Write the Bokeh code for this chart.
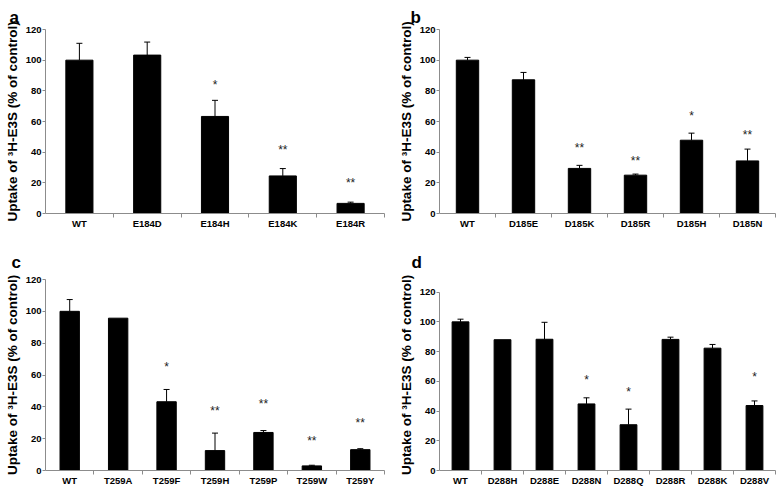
from bokeh.plotting import figure
from bokeh.models import ColumnDataSource, Range1d, FixedTicker, Whisker, TeeHead, Title
from bokeh.layouts import column, row
from bokeh.embed import file_html
from bokeh.resources import INLINE
from bokeh.core.properties import value

FONT = "Liberation Sans"
GRAY = "#8c8c8c"
Y_LABEL = "Uptake of ³H-E3S (% of control)"
y_ticks = [0, 20, 40, 60, 80, 100, 120]

# Panel a
a_cats = ["WT", "E184D", "E184H", "E184K", "E184R"]
a_vals = [100, 103.3, 63.3, 24.5, 6.6]
a_sd = [11, 8.5, 10.5, 4.8, 0.8]
a_stars = ["", "", "*", "**", "**"]
a_star_y = [0, 0, 83.5, 41.3, 20.1]

# Panel b
b_cats = ["WT", "D185E", "D185K", "D185R", "D185H", "D185N"]
b_vals = [100, 87.2, 29.4, 25.0, 47.8, 34.3]
b_sd = [1.8, 4.8, 2.0, 0.7, 4.6, 7.7]
b_stars = ["", "", "**", "**", "*", "**"]
b_star_y = [0, 0, 42.8, 34.0, 63.7, 51.0]

# Panel c
c_cats = ["WT", "T259A", "T259F", "T259H", "T259P", "T259W", "T259Y"]
c_vals = [100, 95.7, 43.2, 12.5, 23.9, 2.9, 13.1]
c_sd = [7.4, 0, 7.7, 11.0, 1.2, 0.4, 0.6]
c_stars = ["", "", "*", "**", "**", "**", "**"]
c_star_y = [0, 0, 65.0, 37.6, 41.7, 18.3, 30.1]

# Panel d
d_cats = ["WT", "D288H", "D288E", "D288N", "D288Q", "D288R", "D288K", "D288V"]
d_vals = [100, 88.0, 88.3, 44.8, 30.8, 88.2, 82.3, 43.7]
d_sd = [1.8, 0, 11.4, 4.1, 10.5, 1.5, 2.5, 3.1]
d_stars = ["", "", "", "*", "*", "", "", "*"]
d_star_y = [0, 0, 0, 60.9, 53.0, 0, 0, 63.1]


def panel(letter, cats, vals, sd, stars, star_y, width, height,
          left, right, top, bottom, lx, standoff, y_end):
    n = len(cats)
    xs = list(range(1, n + 1))
    p = figure(width=width, height=height,
               x_range=Range1d(0.5, n + 0.5), y_range=Range1d(0, y_end),
               output_backend="svg", toolbar_location=None, tools="",
               min_border_left=left, min_border_right=right,
               min_border_top=top, min_border_bottom=bottom)
    p.title = Title(text=letter, align="left", offset=lx - left,
                    standoff=standoff, text_font=FONT,
                    text_font_size="17px", text_font_style="bold",
                    text_color="black")
    p.vbar(x=xs, top=vals, width=0.4, fill_color="black", line_color="black")

    ex = [x for x, s in zip(xs, sd) if s > 0]
    elo = [v for v, s in zip(vals, sd) if s > 0]
    ehi = [v + s for v, s in zip(vals, sd) if s > 0]
    src = ColumnDataSource(dict(x=ex, lower=elo, upper=ehi))
    w = Whisker(base="x", lower="lower", upper="upper", source=src,
                line_color="black", line_width=1, lower_head=None,
                upper_head=TeeHead(size=6, line_color="black", line_width=1))
    p.add_layout(w)

    sx = [x for x, t in zip(xs, stars) if t]
    sy = [y for y, t in zip(star_y, stars) if t]
    st = [t for t in stars if t]
    p.text(x=sx, y=sy, text=st, text_font=value(FONT), text_font_size="12px",
           text_align="center", text_baseline="middle", text_color="#222222")

    xa = p.xaxis[0]
    xa.ticker = FixedTicker(ticks=xs, minor_ticks=[x + 0.5 for x in xs])
    xa.major_label_overrides = {x: c for x, c in zip(xs, cats)}
    xa.axis_line_color = GRAY
    xa.major_tick_line_color = None
    xa.major_tick_out = 0
    xa.major_tick_in = 0
    xa.minor_tick_line_color = GRAY
    xa.minor_tick_out = 4
    xa.minor_tick_in = 0
    xa.major_label_standoff = 0
    xa.major_label_text_font = FONT
    xa.major_label_text_font_size = "9.5px"
    xa.major_label_text_font_style = "bold"
    xa.major_label_text_color = "black"

    ya = p.yaxis[0]
    ya.ticker = FixedTicker(ticks=y_ticks)
    ya.bounds = (y_ticks[0], y_ticks[-1])
    ya.axis_line_color = GRAY
    ya.major_tick_line_color = GRAY
    ya.major_tick_out = 3
    ya.major_tick_in = 0
    ya.minor_tick_line_color = None
    ya.major_label_standoff = 1
    ya.major_label_text_font = FONT
    ya.major_label_text_font_size = "9.5px"
    ya.major_label_text_font_style = "bold"
    ya.major_label_text_color = "black"
    ya.axis_label = Y_LABEL
    ya.axis_label_text_font = FONT
    ya.axis_label_text_font_size = "13.5px"
    ya.axis_label_text_font_style = "bold"
    ya.axis_label_text_color = "black"
    ya.axis_label_standoff = 3

    p.grid.visible = False
    p.outline_line_color = None
    return p


pa = panel("a", a_cats, a_vals, a_sd, a_stars, a_star_y, 388, 240, 45, 4, 29, 27, 9, 6, 120)
pb = panel("b", b_cats, b_vals, b_sd, b_stars, b_star_y, 389, 240, 51, 2, 29, 27, 22, 6, 120)
pc = panel("c", c_cats, c_vals, c_sd, c_stars, c_star_y, 388, 248, 45, 4, 39, 17, 11, 16, 120)
pd_ = panel("d", d_cats, d_vals, d_sd, d_stars, d_star_y, 389, 248, 51, 2, 39, 17, 23, 16, 128.5)

layout = column(row(pa, pb), row(pc, pd_))
open("out.html", "w").write(file_html(layout, INLINE))
